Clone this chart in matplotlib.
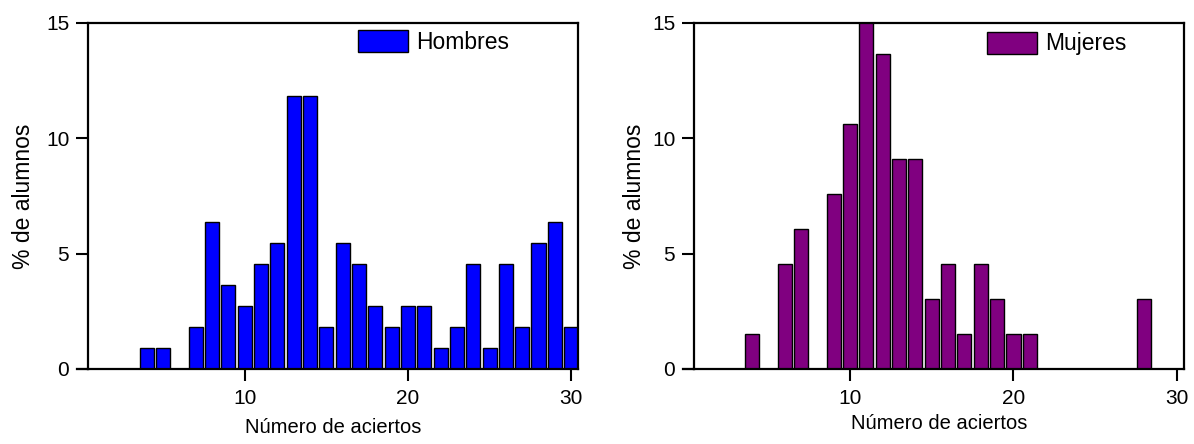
import matplotlib
matplotlib.use("Agg")
import matplotlib.pyplot as plt

plt.rcParams['font.family'] = ['Liberation Sans', 'DejaVu Sans']

# Data
x_h = [4, 5, 7, 8, 9, 10, 11, 12, 13, 14, 15, 16, 17, 18, 19, 20, 21, 22, 23, 24, 25, 26, 27, 28, 29, 30]
hombres = [0.91, 0.91, 1.82, 6.36, 3.64, 2.73, 4.55, 5.45, 11.82, 11.82, 1.82, 5.45, 4.55, 2.73,
           1.82, 2.73, 2.73, 0.91, 1.82, 4.55, 0.91, 4.55, 1.82, 5.45, 6.36, 1.82]
x_m = [4, 6, 7, 9, 10, 11, 12, 13, 14, 15, 16, 17, 18, 19, 20, 21, 28]
mujeres = [1.52, 4.55, 6.06, 7.58, 10.61, 15.15, 13.64, 9.09, 9.09, 3.03, 4.55, 1.52, 4.55,
           3.03, 1.52, 1.52, 3.03]
xticks = [10, 20, 30]
yticks = [0, 5, 10, 15]

W, H = 1194, 444
fig = plt.figure(figsize=(W / 100, H / 100), dpi=100)
ax1 = fig.add_axes([88 / W, 1 - 369 / H, (578 - 88) / W, (369 - 23) / H])
ax2 = fig.add_axes([694 / W, 1 - 369 / H, (1184 - 694) / W, (369 - 23) / H])

panels = [
    (ax1, x_h, hombres, '#0000FF', 'Hombres', (0.4, 30.42), (0.55, 0.98), 8, 7),
    (ax2, x_m, mujeres, '#800080', 'Mujeres', (0.46, 30.43), (0.597, 0.975), 4, 4),
]
for ax, xs, ys, col, lab, xl, anchor, ylp, xlp in panels:
    ax.bar(xs, ys, width=0.86, color=col, edgecolor='black', linewidth=1.0, label=lab)
    ax.set_xlim(*xl)
    ax.set_ylim(0, 15)
    ax.set_xticks(xticks)
    ax.set_yticks(yticks)
    for s in ax.spines.values():
        s.set_linewidth(1.6)
    ax.tick_params(axis='both', direction='out', length=8.5, width=1.5, labelsize=15, pad=5)
    ax.tick_params(axis='x', pad=6)
    ax.set_xlabel('Número de aciertos', fontsize=14.5, labelpad=xlp)
    ax.set_ylabel('% de alumnos', fontsize=16.5, labelpad=ylp)
    ax.plot([-0.022, 0], [0, 0], transform=ax.transAxes, color='black', lw=1.6, clip_on=False)
    ax.legend(loc='upper left', bbox_to_anchor=anchor, frameon=False, fontsize=16.5,
              handlelength=2.2, handleheight=1.1, borderpad=0, borderaxespad=0,
              handletextpad=0.35)

fig.savefig('out.png', dpi=100)
